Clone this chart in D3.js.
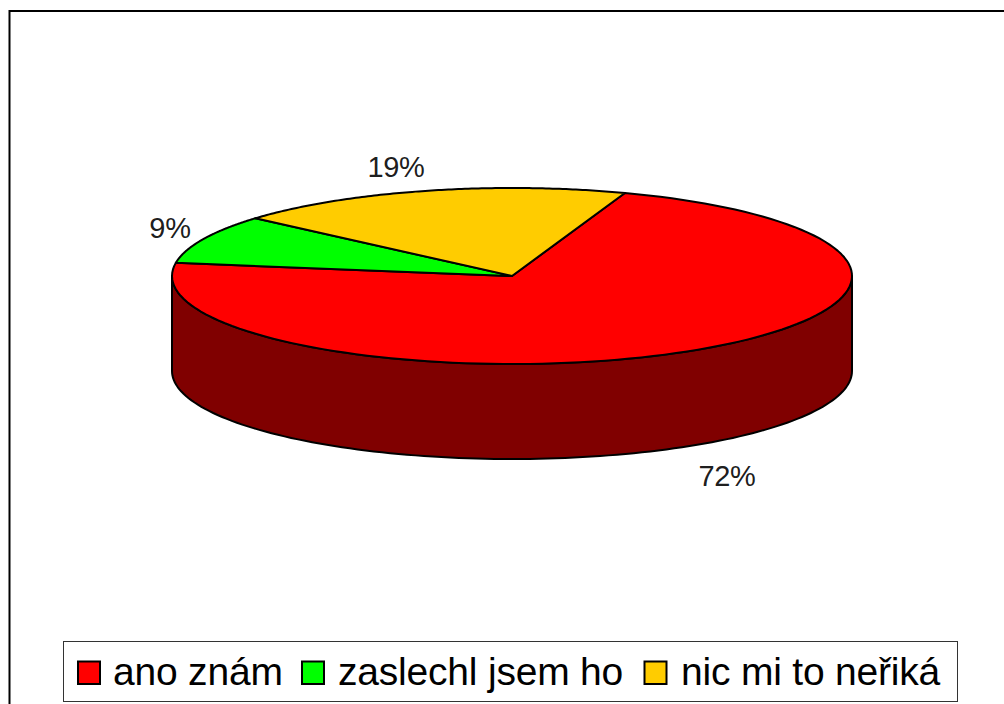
<!DOCTYPE html>
<html><head><meta charset="utf-8">
<script src="https://cdn.jsdelivr.net/npm/d3@7"></script>
<style>html,body{margin:0;padding:0;background:#fff}svg{display:block}text{font-family:"Liberation Sans",Arial,sans-serif;fill:#000}</style>
</head><body><svg id="c" width="1004" height="704"></svg>
<script>
const categories=["ano znám","zaslechl jsem ho","nic mi to neřiká"];
const values=[72,9,19];
const labels=["72%","9%","19%"];
const colors=["#ff0000","#00ff00","#ffcc00"];
const wallColors=["#800000","#008000","#806600"];
const svg=d3.select("#c");
svg.append("path").attr("d","M9.5,720V11H1004").attr("fill","none").attr("stroke","#000").attr("stroke-width",2);
const sx=d3.scaleLinear().domain([-1,1]).range([172,852]);
const sy=d3.scaleLinear().domain([-1,1]).range([188,364]);
const depth=95;
const start=19.4*Math.PI/180;
const pie=d3.pie().sort(null).startAngle(start).endAngle(start+2*Math.PI);
const arcs=pie(values);
const pt=(a,dy=0)=>[sx(Math.sin(a)),sy(-Math.cos(a))+dy];
const arcPts=(a0,a1,dy=0)=>d3.range(0,121).map(i=>pt(a0+(a1-a0)*i/120,dy));
const line=d3.line();
const g=svg.append("g");
arcs.forEach((d,i)=>{
  [[Math.PI/2,3*Math.PI/2],[Math.PI/2+2*Math.PI,3*Math.PI/2+2*Math.PI]].forEach(([lo,hi])=>{
    const a0=Math.max(d.startAngle,lo),a1=Math.min(d.endAngle,hi);
    if(a1<=a0)return;
    const p=arcPts(a0,a1).concat(arcPts(a1,a0,depth));
    g.append("path").attr("d",line(p)+"Z").attr("fill",wallColors[i]).attr("stroke","#000").attr("stroke-width",2).attr("stroke-linejoin","round");
  });
});
arcs.forEach((d,i)=>{
  const p=[[sx(0),sy(0)]].concat(arcPts(d.startAngle,d.endAngle));
  g.append("path").attr("d",line(p)+"Z").attr("fill",colors[i]).attr("stroke","#000").attr("stroke-width",2).attr("stroke-linejoin","round");
});
const labelPos=[[727,476],[170,228],[396,167]];
labels.forEach((t,i)=>svg.append("text").attr("x",labelPos[i][0]).attr("y",labelPos[i][1]).attr("dy","0.36em").attr("text-anchor","middle").attr("font-size",29).attr("letter-spacing",-0.3).attr("fill-opacity",0.9).text(t));
const lg=svg.append("g");
lg.append("rect").attr("x",63.5).attr("y",641.5).attr("width",894).attr("height",60).attr("fill","#fff").attr("stroke","#333").attr("stroke-width",1);
const swatchX=[78,302,644.5],textX=[113,338,681];
categories.forEach((c,i)=>{
  lg.append("rect").attr("x",swatchX[i]).attr("y",661.5).attr("width",22).attr("height",22.5).attr("fill",colors[i]).attr("stroke","#000").attr("stroke-width",2);
  lg.append("text").attr("x",textX[i]).attr("y",685).attr("font-size",39).attr("letter-spacing",-0.2).text(c);
});
</script></body></html>
